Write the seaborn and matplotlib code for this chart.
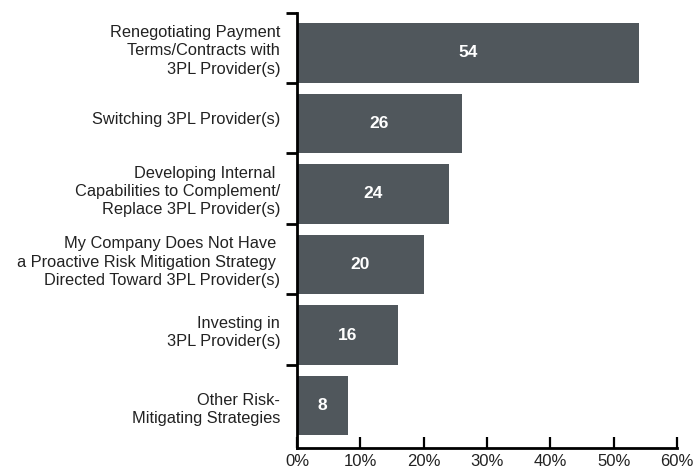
import numpy as np
import pandas as pd
import seaborn as sns
import matplotlib.pyplot as plt
from matplotlib.ticker import FixedLocator, PercentFormatter

categories = [
    "Renegotiating Payment\nTerms/Contracts with\n3PL Provider(s)",
    "Switching 3PL Provider(s)",
    "Developing Internal \nCapabilities to Complement/\nReplace 3PL Provider(s)",
    "My Company Does Not Have \na Proactive Risk Mitigation Strategy \nDirected Toward 3PL Provider(s)",
    "Investing in\n3PL Provider(s)",
    "Other Risk-\nMitigating Strategies",
]
values = [54, 26, 24, 20, 16, 8]
x_ticks = [0, 10, 20, 30, 40, 50, 60]

BAR = "#50575c"
TEXT = "#222222"

sns.set_theme(style="white")
plt.rcParams['font.family'] = ['Liberation Sans', 'DejaVu Sans']

df = pd.DataFrame({"strategy": categories, "pct": values})

fig = plt.figure(figsize=(6.96, 4.70), dpi=100)
ax = fig.add_axes([0.4267, 0.0468, 0.9727 - 0.4267, 0.9723 - 0.0468])

sns.barplot(data=df, y="strategy", x="pct", orient="h", color=BAR,
            saturation=1, width=0.845, linewidth=0, ax=ax)

for i, v in enumerate(values):
    ax.text(v / 2, i, str(v), ha="center", va="center", color="white",
            fontsize=12.5, fontweight="bold")

# category boundaries on the y axis
top, bottom = -0.565, 5.6
bounds = [top] + [i + 0.4225 for i in range(5)]
centers = [(a + b) / 2 for a, b in zip(bounds, bounds[1:] + [bottom])]
ax.set_ylim(bottom, top)
ax.yaxis.set_major_locator(FixedLocator(bounds))
ax.yaxis.set_minor_locator(FixedLocator(centers))
ax.set_yticklabels([])
ax.set_yticklabels(categories, minor=True, fontsize=11.8, color=TEXT,
                   ha="right", linespacing=1.27)
ax.tick_params(axis="y", which="major", length=8, width=2, color="black",
               direction="out", left=True)
ax.tick_params(axis="y", which="minor", length=0, pad=12)

ax.set_xlim(0, 60)
ax.set_xticks(x_ticks)
ax.xaxis.set_major_formatter(PercentFormatter(decimals=0))
ax.tick_params(axis="x", length=8, width=1.6, color="black", direction="in",
               bottom=True, labelsize=12, labelcolor=TEXT, pad=4)

for side in ["top", "right"]:
    ax.spines[side].set_visible(False)
for side in ["left", "bottom"]:
    ax.spines[side].set_color("black")
    ax.spines[side].set_linewidth(2)

ax.set_xlabel("")
ax.set_ylabel("")

fig.savefig("out.png", dpi=100)
